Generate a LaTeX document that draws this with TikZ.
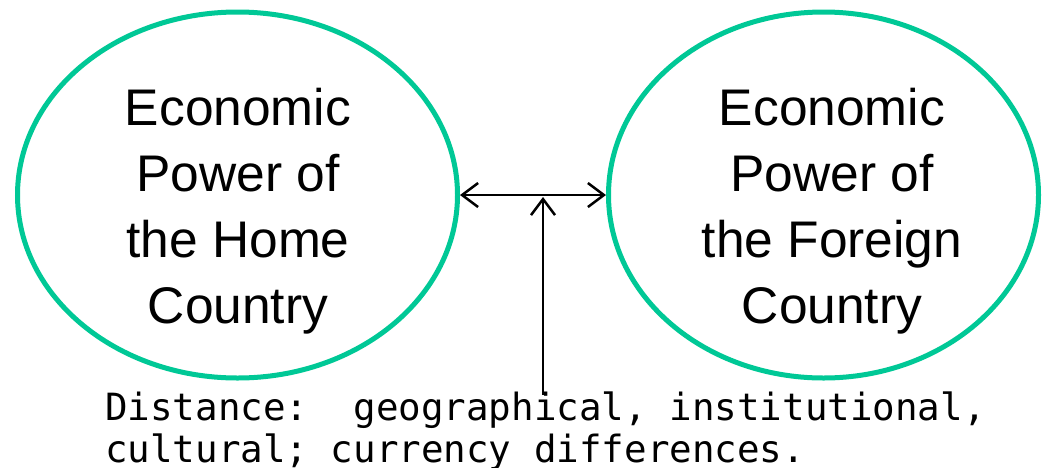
\documentclass[tikz,border=0pt]{standalone}
\usepackage{fontspec}
\setmainfont{Liberation Sans}
\setmonofont{DejaVu Sans Mono}
\usetikzlibrary{arrows.meta,shapes.geometric}
\definecolor{ellgreen}{RGB}{0,200,150}
\tikzset{
  ell/.style={draw=ellgreen, line width=5pt, ellipse, inner sep=0pt},
  bigtext/.style={font=\fontsize{51.5}{66}\selectfont, align=center, inner sep=0pt},
  conn/.style={line width=2.5pt, {Straight Barb[length=16pt,width=24pt,line width=2.5pt]}-{Straight Barb[length=16pt,width=24pt,line width=2.5pt]}},
  upconn/.style={line width=2.5pt, -{Straight Barb[length=16pt,width=24pt,line width=2.5pt]}},
  monotext/.style={font=\ttfamily\fontsize{37.5}{42}\selectfont, align=left, inner sep=0pt}
}
\begin{document}
\begin{tikzpicture}[x=1pt,y=-1pt]
\useasboundingbox (0,0) rectangle (1046,467);
\node[ell, minimum width=440pt, minimum height=366pt] (home) at (237.5,195) {};
\node[ell, minimum width=430pt, minimum height=366pt] (foreign) at (823.5,195) {};
\node[bigtext] (hometext) at (238,211) {Economic\\Power of\\the Home\\Country};
\node[bigtext] (foreigntext) at (832,211) {Economic\\Power of\\the Foreign\\Country};
\draw[conn] (home.east) -- (foreign.west);
\coordinate (mid) at (543,197);
\coordinate (distbase) at (543,395);
\draw[upconn] (distbase) -- (mid);
\node[monotext, anchor=base west] (dist) at (105,462) {Distance:\ \ geographical, institutional,\\cultural; currency differences.};
\end{tikzpicture}
\end{document}
